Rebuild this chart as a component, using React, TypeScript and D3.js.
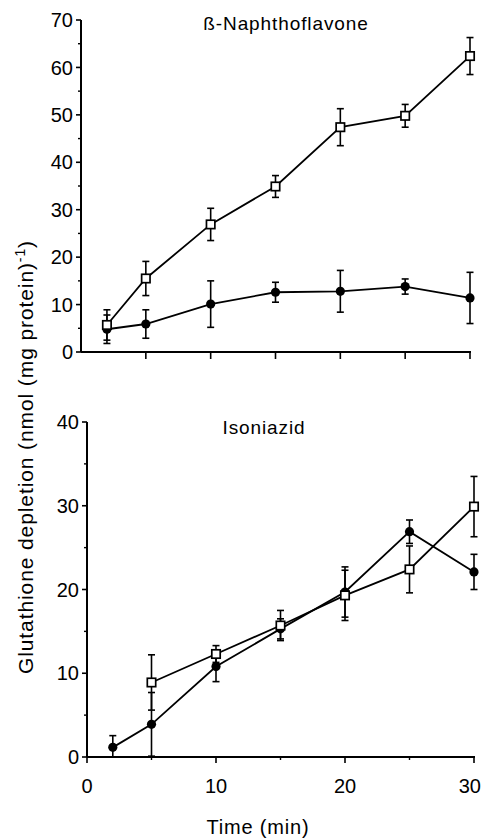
import React from "react";
import * as d3 from "d3";

// sampling times (min)
const times = [2, 5, 10, 15, 20, 25, 30];
const inhSquareTimes = [5, 10, 15, 20, 25, 30];

// ß-Naphthoflavone panel
const bnfCircle = [4.8, 5.9, 10.1, 12.6, 12.8, 13.8, 11.4];
const bnfCircleErr = [3.0, 3.0, 4.9, 2.1, 4.4, 1.6, 5.4];
const bnfSquare = [5.7, 15.5, 26.9, 34.9, 47.4, 49.8, 62.4];
const bnfSquareErr = [3.2, 3.6, 3.4, 2.3, 3.9, 2.4, 3.9];

// Isoniazid panel
const inhCircle = [1.15, 3.9, 10.8, 15.3, 19.7, 26.9, 22.1];
const inhCircleErr = [1.4, 3.8, 1.8, 1.2, 3.0, 1.4, 2.1];
const inhSquare = [8.9, 12.3, 15.7, 19.3, 22.4, 29.9];
const inhSquareErr = [3.3, 1.0, 1.8, 3.0, 2.8, 3.6];

const xTicks = [0, 10, 20, 30];
const xMinor = [5, 15, 25];

const W = 482;
const H = 838;
const FONT = "'Liberation Sans', Arial, Helvetica, sans-serif";

type Series = { xs: number[]; ys: number[]; err: number[]; kind: "circle" | "square" };

function Panel(props: {
  title: string;
  titleX: number;
  titleY: number;
  yMax: number;
  yStep: number;
  x0: number;
  x1: number;
  yTop: number;
  yBottom: number;
  series: Series[];
  xLabels: boolean;
}) {
  const { x0, x1, yTop, yBottom, yMax, yStep } = props;
  const x = d3.scaleLinear().domain([0, 30]).range([x0, x1]);
  const y = d3.scaleLinear().domain([0, yMax]).range([yBottom, yTop]);
  const yMajor = d3.range(0, yMax + 0.01, yStep);
  const yMinor = d3.range(yStep / 2, yMax, yStep);
  const line = d3
    .line<[number, number]>()
    .x((d) => x(d[0]))
    .y((d) => y(d[1]));

  const topXTicks = [5, 10, 15, 20, 25, 30];

  return (
    <g>
      {/* axes */}
      <line x1={x0} x2={x0} y1={yTop} y2={yBottom} stroke="#000" strokeWidth={2} />
      <line x1={x0} x2={x1 + 1} y1={yBottom} y2={yBottom} stroke="#000" strokeWidth={2} />
      {yMajor.map((v) => (
        <g key={"ym" + v}>
          <line x1={x0 - 5} x2={x0} y1={y(v)} y2={y(v)} stroke="#000" strokeWidth={1.6} />
          <text x={x0 - 8} y={y(v)} dy="0.36em" textAnchor="end" fontSize={20} fontFamily={FONT}>
            {v}
          </text>
        </g>
      ))}
      {yMinor.map((v) => (
        <line key={"yn" + v} x1={x0 - 3} x2={x0} y1={y(v)} y2={y(v)} stroke="#000" strokeWidth={1.4} />
      ))}
      {props.xLabels ? (
        <g>
          {xTicks.map((v, i) => (
            <g key={"xt" + v}>
              <line x1={x(v)} x2={x(v)} y1={yBottom} y2={yBottom + 6} stroke="#000" strokeWidth={1.6} />
              <text
                x={i === xTicks.length - 1 ? W - 1 : x(v)}
                y={yBottom + 36}
                textAnchor={i === xTicks.length - 1 ? "end" : "middle"}
                fontSize={20}
                fontFamily={FONT}
              >
                {v}
              </text>
            </g>
          ))}
          {xMinor.map((v) => (
            <line key={"xn" + v} x1={x(v)} x2={x(v)} y1={yBottom} y2={yBottom + 3} stroke="#000" strokeWidth={1.4} />
          ))}
        </g>
      ) : (
        <g>
          {topXTicks.map((v) => (
            <line key={"xt" + v} x1={x(v)} x2={x(v)} y1={yBottom} y2={yBottom + 7} stroke="#000" strokeWidth={1.6} />
          ))}
        </g>
      )}

      <text x={props.titleX} y={props.titleY} textAnchor="middle" fontSize={19} letterSpacing={0.9} fontFamily={FONT}>
        {props.title}
      </text>

      {/* lines */}
      {props.series.map((s, i) => (
        <path
          key={"l" + i}
          d={line(s.xs.map((t, j) => [t, s.ys[j]] as [number, number])) || ""}
          fill="none"
          stroke="#000"
          strokeWidth={1.8}
        />
      ))}
      {/* error bars */}
      {props.series.map((s, i) =>
        s.xs.map((t, j) => {
          const cx = x(t);
          const hi = y(s.ys[j] + s.err[j]);
          const lo = y(Math.max(0, s.ys[j] - s.err[j]));
          return (
            <g key={"e" + i + "-" + j} stroke="#000" strokeWidth={1.6}>
              <line x1={cx} x2={cx} y1={hi} y2={lo} />
              <line x1={cx - 3.5} x2={cx + 3.5} y1={hi} y2={hi} />
              <line x1={cx - 3.5} x2={cx + 3.5} y1={lo} y2={lo} />
            </g>
          );
        })
      )}
      {/* markers */}
      {props.series.map((s, i) =>
        s.xs.map((t, j) =>
          s.kind === "circle" ? (
            <circle key={"m" + i + "-" + j} cx={x(t)} cy={y(s.ys[j])} r={4.6} fill="#000" />
          ) : (
            <rect
              key={"m" + i + "-" + j}
              x={x(t) - 4.2}
              y={y(s.ys[j]) - 4.2}
              width={8.4}
              height={8.4}
              fill="#fff"
              stroke="#000"
              strokeWidth={1.7}
            />
          )
        )
      )}
    </g>
  );
}

export default function App() {
  return (
    <div style={{ position: "absolute", left: 0, top: 0 }}>
      <svg width={W} height={H} style={{ display: "block", background: "#fff" }}>
        <Panel
          title="ß-Naphthoflavone"
          titleX={286}
          titleY={30}
          yMax={70}
          yStep={10}
          x0={81}
          x1={470}
          yTop={20}
          yBottom={352}
          xLabels={false}
          series={[
            { xs: times, ys: bnfCircle, err: bnfCircleErr, kind: "circle" },
            { xs: times, ys: bnfSquare, err: bnfSquareErr, kind: "square" },
          ]}
        />
        <Panel
          title="Isoniazid"
          titleX={264}
          titleY={434}
          yMax={40}
          yStep={10}
          x0={87}
          x1={474}
          yTop={422}
          yBottom={757}
          xLabels={true}
          series={[
            { xs: times, ys: inhCircle, err: inhCircleErr, kind: "circle" },
            { xs: inhSquareTimes, ys: inhSquare, err: inhSquareErr, kind: "square" },
          ]}
        />
        <text
          transform="translate(33,457) rotate(-90)"
          textAnchor="middle"
          fontSize={21}
          letterSpacing={0.9}
          fontFamily={FONT}
        >
          Glutathione depletion (nmol (mg protein)
          <tspan dy={-8} fontSize={14}>-1</tspan>
          <tspan dy={8}>)</tspan>
        </text>
        <text x={258} y={834} textAnchor="middle" fontSize={20} letterSpacing={0.8} fontFamily={FONT}>
          Time (min)
        </text>
      </svg>
    </div>
  );
}
